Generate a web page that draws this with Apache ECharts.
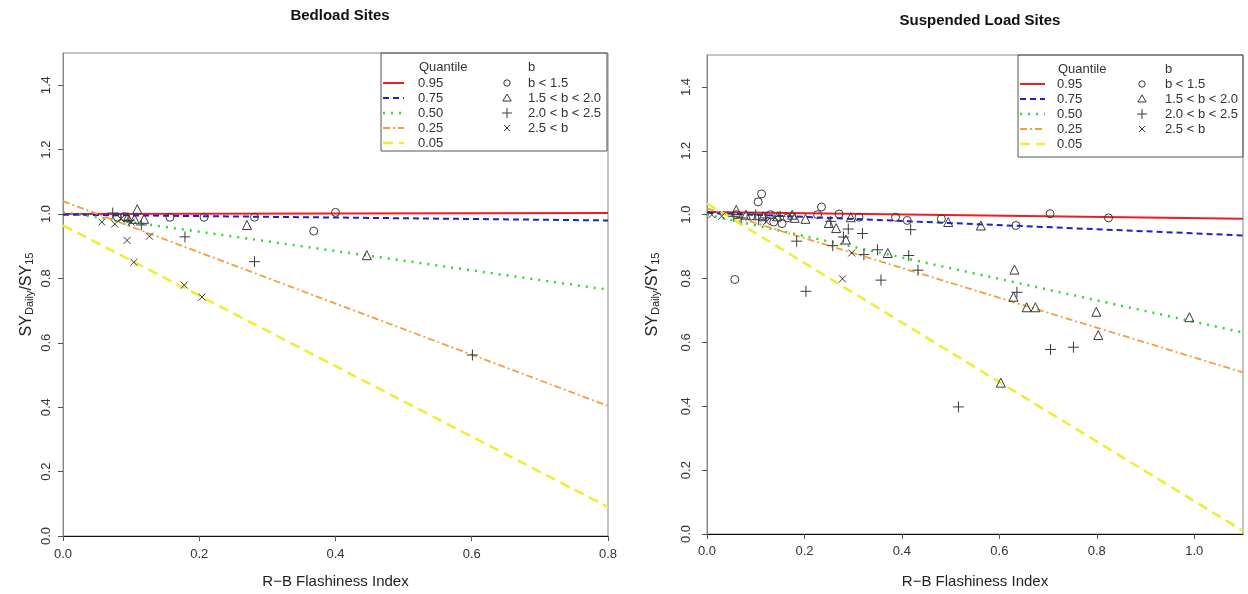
<!DOCTYPE html>
<html>
<head>
<meta charset="utf-8">
<script src="https://cdn.jsdelivr.net/npm/echarts@6/dist/echarts.min.js"></script>
<style>
  html, body { margin: 0; padding: 0; background: #fff; }
  #chart { width: 1248px; height: 594px; }
</style>
</head>
<body>
<div id="chart"></div>
<script>
// quantile regression lines: value at x = 0 and at the right end of the axis
const quantileNames = ['0.95', '0.75', '0.50', '0.25', '0.05'];
const leftQStart = [1.0, 0.998, 1.005, 1.04, 0.965];
const leftQEnd = [1.003, 0.98, 0.765, 0.404, 0.09];
const rightQStart = [1.008, 1.006, 1.0, 1.02, 1.035];
const rightQEnd = [0.987, 0.935, 0.631, 0.506, 0.01];

const bNames = ['b < 1.5', '1.5 < b < 2.0', '2.0 < b < 2.5', '2.5 < b'];

// Bedload sites [flashiness, SYdaily/SY15]
const leftCircle = [[0.157, 0.99], [0.207, 0.99], [0.281, 0.99], [0.368, 0.947], [0.40, 1.005], [0.08, 0.99], [0.09, 0.992]];
const leftTriangle = [[0.109, 1.015], [0.119, 0.985], [0.27, 0.966], [0.446, 0.872], [0.095, 0.99], [0.105, 0.985]];
const leftPlus = [[0.073, 1.003], [0.115, 0.966], [0.179, 0.929], [0.281, 0.852], [0.601, 0.562], [0.097, 0.98]];
const leftCross = [[0.057, 0.975], [0.076, 0.969], [0.094, 0.918], [0.127, 0.931], [0.104, 0.85], [0.178, 0.779], [0.204, 0.742], [0.085, 0.985], [0.1, 0.975]];

// Suspended load sites
const rightCircle = [[0.112, 1.065], [0.105, 1.04], [0.057, 0.797], [0.235, 1.024], [0.227, 1.0], [0.271, 1.002], [0.312, 0.992],
  [0.387, 0.992], [0.411, 0.982], [0.481, 0.987], [0.634, 0.966], [0.704, 1.003], [0.824, 0.99], [0.154, 0.972],
  [0.137, 0.977], [0.06, 1.0], [0.09, 0.995], [0.13, 1.0], [0.165, 0.99]];
const rightTriangle = [[0.295, 0.992], [0.495, 0.977], [0.25, 0.974], [0.265, 0.958], [0.285, 0.922], [0.202, 0.987], [0.18, 0.99],
  [0.371, 0.88], [0.562, 0.966], [0.631, 0.828], [0.629, 0.743], [0.656, 0.71], [0.674, 0.71], [0.799, 0.696],
  [0.803, 0.623], [0.99, 0.679], [0.603, 0.474], [0.06, 1.015], [0.08, 1.0], [0.115, 0.995], [0.145, 0.995], [0.175, 1.0]];
const rightPlus = [[0.418, 0.953], [0.184, 0.917], [0.258, 0.903], [0.254, 0.979], [0.29, 0.955], [0.319, 0.941], [0.28, 0.93],
  [0.322, 0.875], [0.35, 0.89], [0.414, 0.872], [0.433, 0.826], [0.357, 0.795], [0.203, 0.76], [0.636, 0.757],
  [0.705, 0.578], [0.752, 0.585], [0.516, 0.398], [0.106, 0.984], [0.055, 0.995], [0.07, 0.99], [0.1, 1.0], [0.12, 0.99], [0.15, 0.995]];
const rightCross = [[0.297, 0.88], [0.278, 0.799], [0.122, 0.978], [0.01, 1.0], [0.03, 0.995], [0.14, 0.99]];

const yTicks = [0, 0.2, 0.4, 0.6, 0.8, 1.0, 1.2, 1.4];
const leftXTicks = [0, 0.2, 0.4, 0.6, 0.8];
const rightXTicks = [0, 0.2, 0.4, 0.6, 0.8, 1.0];

const font = 'Liberation Sans, Arial, sans-serif';
const markColor = '#3a3a3a';
const lineColors = ['#ee1c24', '#2020c8', '#2ed82e', '#f0a040', '#eeee30'];
const lineWidths = [2, 2, 2.5, 1.8, 2.5];
const lineTypes = ['solid', [6, 4], [2, 6], [7, 3, 2, 3], [10, 6]];
const symbols = [
    'circle',
    'triangle',
    'path://M5,0L5,10M0,5L10,5',
    'path://M0,0L10,10M10,0L0,10'
];
const symbolSizes = [8, 9, 11, 7];

const chart = echarts.init(document.getElementById('chart'));

function xAxis(gridIndex, max, ticks, margin, nameGap) {
    return {
        type: 'value', gridIndex, min: 0, max, interval: 0.2,
        name: 'R\u2212B Flashiness Index', nameLocation: 'middle', nameGap,
        nameTextStyle: { fontFamily: font, fontSize: 15, color: '#222' },
        axisLine: { show: true, onZero: false, lineStyle: { color: '#111', width: 1 } },
        axisTick: { show: true, length: 5, customValues: ticks, lineStyle: { color: '#555' } },
        axisLabel: {
            customValues: ticks, margin, fontFamily: font, fontSize: 13, color: '#333',
            formatter: v => v.toFixed(1)
        },
        splitLine: { show: false }
    };
}

function yAxis(gridIndex, margin, nameGap) {
    return {
        type: 'value', gridIndex, min: 0, max: 1.5, interval: 0.2,
        name: '{a|SY}{s|Daily}{a|/SY}{s|15}', nameLocation: 'middle', nameGap, nameRotate: 90,
        nameTextStyle: {
            color: '#222',
            rich: {
                a: { fontFamily: font, fontSize: 16, color: '#222', verticalAlign: 'bottom', lineHeight: 21 },
                s: { fontFamily: font, fontSize: 11, color: '#222', verticalAlign: 'bottom', lineHeight: 14 }
            }
        },
        axisLine: { show: true, onZero: false, lineStyle: { color: '#888', width: 1 } },
        axisTick: { show: true, length: 5, customValues: yTicks, lineStyle: { color: '#555' } },
        axisLabel: {
            customValues: yTicks, rotate: 90, margin, fontFamily: font, fontSize: 13, color: '#333',
            formatter: v => v.toFixed(1)
        },
        splitLine: { show: false }
    };
}

const series = [];
function addPanel(idx, xmax, qStart, qEnd, groups) {
    quantileNames.forEach((name, i) => {
        series.push({
            name, type: 'line', xAxisIndex: idx, yAxisIndex: idx,
            data: [[0, qStart[i]], [xmax, qEnd[i]]],
            symbol: 'none', silent: true, z: 2,
            lineStyle: { color: lineColors[i], width: lineWidths[i], type: lineTypes[i] },
            itemStyle: { color: lineColors[i] }
        });
    });
    groups.forEach((data, i) => {
        series.push({
            name: bNames[i], type: 'scatter', xAxisIndex: idx, yAxisIndex: idx,
            data, symbol: symbols[i], symbolSize: symbolSizes[i], z: 3,
            itemStyle: { color: 'rgba(0,0,0,0)', borderColor: markColor, borderWidth: 1, opacity: 1 }
        });
    });
}
addPanel(0, 0.8, leftQStart, leftQEnd, [leftCircle, leftTriangle, leftPlus, leftCross]);
addPanel(1, 1.1, rightQStart, rightQEnd, [rightCircle, rightTriangle, rightPlus, rightCross]);

// legend box drawn as graphics, in the style of the R legend
function legendGraphics(box, lineX0, lineX1, labelX, symX, symLabelX, headerY, rowY) {
    const g = [];
    const txt = (x, y, text) => ({
        type: 'text', x, y,
        style: { text, font: '13px ' + font, fill: '#333', verticalAlign: 'middle', align: 'left' }
    });
    const seg = (x1, y1, x2, y2) => ({
        type: 'line', shape: { x1, y1, x2, y2 }, style: { stroke: markColor, lineWidth: 1 }
    });
    g.push({ type: 'rect', shape: box, style: { fill: 'none', stroke: '#555', lineWidth: 1 } });
    g.push(txt(labelX + 1, headerY, 'Quantile'));
    g.push(txt(symLabelX, headerY, 'b'));
    quantileNames.forEach((name, i) => {
        const y = rowY + 15 * i;
        g.push({
            type: 'line', shape: { x1: lineX0, y1: y, x2: lineX1, y2: y },
            style: {
                stroke: lineColors[i], lineWidth: lineWidths[i],
                lineDash: Array.isArray(lineTypes[i]) ? lineTypes[i] : null
            }
        });
        g.push(txt(labelX, y, name));
    });
    bNames.forEach((name, i) => {
        const y = rowY + 15 * i;
        if (i === 0) {
            g.push({ type: 'circle', shape: { cx: symX, cy: y, r: 3.2 }, style: { fill: 'none', stroke: markColor, lineWidth: 1 } });
        } else if (i === 1) {
            g.push({ type: 'polygon', shape: { points: [[symX, y - 4], [symX + 4.2, y + 3], [symX - 4.2, y + 3]] },
                     style: { fill: 'none', stroke: markColor, lineWidth: 1 } });
        } else if (i === 2) {
            g.push(seg(symX - 5, y, symX + 5, y), seg(symX, y - 5, symX, y + 5));
        } else {
            g.push(seg(symX - 3, y - 3, symX + 3, y + 3), seg(symX + 3, y - 3, symX - 3, y + 3));
        }
        g.push(txt(symLabelX, y, name));
    });
    return g;
}

const option = {
    backgroundColor: '#fff',
    animation: false,
    title: [
        { text: 'Bedload Sites', left: 335, top: 3, textAlign: 'center',
          textStyle: { fontFamily: font, fontSize: 15, fontWeight: 'bold', color: '#111' } },
        { text: 'Suspended Load Sites', left: 975, top: 8, textAlign: 'center',
          textStyle: { fontFamily: font, fontSize: 15, fontWeight: 'bold', color: '#111' } }
    ],
    grid: [
        { left: 63, top: 53, width: 545, height: 489, show: true, borderColor: '#888', borderWidth: 1 },
        { left: 707, top: 55, width: 536, height: 480, show: true, borderColor: '#888', borderWidth: 1 }
    ],
    xAxis: [xAxis(0, 0.8, leftXTicks, 12, 38), xAxis(1, 1.1, rightXTicks, 11, 40)],
    yAxis: [yAxis(0, 10, 28), yAxis(1, 14, 46)],
    graphic: [
        ...legendGraphics({ x: 381, y: 53, width: 226, height: 98 }, 383, 404, 418, 507, 528, 67, 83),
        ...legendGraphics({ x: 1018, y: 55, width: 225, height: 102 }, 1020, 1045, 1057, 1142, 1165, 69, 84)
    ],
    series
};
chart.setOption(option);
</script>
</body>
</html>
